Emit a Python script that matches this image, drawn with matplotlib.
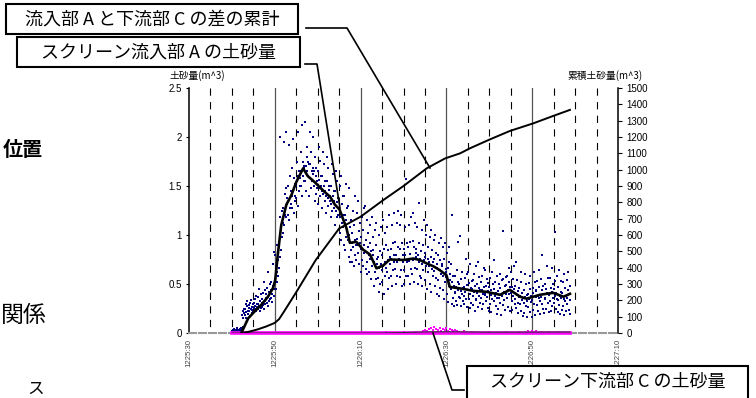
import numpy as np
import matplotlib.pyplot as plt
from matplotlib.patches import Rectangle
from matplotlib.lines import Line2D

plt.rcParams['font.family'] = ['Noto Sans CJK JP', 'DejaVu Sans']
plt.rcParams['lines.scale_dashes'] = False

# x axis = seconds after 12:25:30
tick_secs = [0, 20, 40, 60, 80, 100]
tick_labels = ['1225:30', '1225:50', '1226:10', '1226:30', '1226:50', '1227:10']
left_ticks = [0, 0.5, 1, 1.5, 2, 2.5]
left_tick_labels = ['0', '0.5', '1', '1.5', '2', '2.5']
right_ticks = list(range(0, 1501, 100))

# screen inflow A, sampled 10 per second from t = 10 s (values in 0.01 m^3)
inflow_t0 = 10.0
inflow_dt = 0.1
inflow_rows = [
    [2, 0, 3, 1, 4, 1, 2, 0, 3, 1],
    [1, 4, 2, 5, 1, 3, 2, 0, 4, 3],
    [3, 5, 2, 18, 4, 22, 15, 6, 25, 20],
    [24, 18, 30, 21, 15, 28, 33, 19, 22, 26],
    [29, 22, 17, 31, 25, 34, 20, 27, 23, 30],
    [21, 31, 26, 35, 24, 28, 38, 22, 30, 27],
    [30, 24, 37, 45, 28, 22, 33, 40, 26, 31],
    [35, 27, 41, 29, 52, 25, 33, 44, 30, 36],
    [40, 31, 46, 28, 37, 62, 33, 42, 50, 35],
    [44, 36, 52, 40, 32, 70, 48, 38, 83, 45],
    [55, 80, 45, 68, 90, 52, 62, 75, 58, 66],
    [92, 118, 78, 200, 85, 108, 125, 98, 112, 102],
    [128, 195, 110, 142, 120, 148, 205, 118, 132, 138],
    [150, 120, 192, 136, 115, 160, 128, 145, 132, 140],
    [168, 128, 145, 198, 122, 158, 135, 152, 140, 150],
    [138, 175, 155, 205, 130, 160, 145, 165, 150, 158],
    [185, 150, 165, 140, 212, 160, 175, 155, 170, 168],
    [155, 215, 170, 145, 180, 165, 190, 160, 175, 172],
    [140, 172, 205, 158, 185, 148, 165, 155, 168, 162],
    [200, 150, 165, 135, 180, 160, 142, 168, 155, 148],
    [132, 165, 190, 148, 156, 140, 176, 150, 160, 145],
    [160, 128, 142, 185, 150, 172, 135, 155, 145, 140],
    [122, 155, 180, 138, 130, 168, 146, 150, 135, 140],
    [150, 118, 132, 172, 125, 162, 140, 135, 145, 128],
    [110, 145, 125, 165, 134, 118, 155, 138, 120, 128],
    [128, 102, 150, 118, 160, 95, 132, 112, 140, 120],
    [108, 140, 90, 120, 85, 152, 115, 98, 128, 105],
    [95, 130, 78, 148, 100, 72, 108, 85, 115, 92],
    [102, 72, 125, 88, 68, 110, 95, 140, 80, 90],
    [74, 96, 122, 90, 135, 82, 104, 70, 112, 92],
    [98, 62, 86, 118, 75, 105, 68, 128, 90, 82],
    [84, 130, 65, 95, 72, 115, 60, 102, 88, 80],
    [62, 92, 110, 76, 55, 84, 118, 68, 98, 80],
    [85, 48, 72, 105, 62, 90, 55, 112, 76, 70],
    [78, 56, 100, 42, 66, 84, 50, 108, 70, 64],
    [52, 80, 68, 115, 40, 86, 58, 102, 72, 66],
    [90, 62, 108, 74, 45, 85, 120, 56, 70, 78],
    [58, 86, 76, 110, 48, 92, 64, 122, 80, 72],
    [93, 65, 80, 50, 112, 72, 58, 125, 88, 76],
    [75, 110, 57, 86, 64, 120, 48, 92, 72, 80],
    [64, 86, 50, 108, 80, 157, 58, 75, 92, 72],
    [88, 58, 110, 73, 93, 50, 81, 118, 65, 76],
    [60, 94, 74, 122, 52, 88, 66, 112, 82, 78],
    [86, 65, 108, 50, 80, 133, 72, 92, 58, 76],
    [56, 84, 70, 105, 48, 90, 64, 115, 74, 78],
    [82, 54, 100, 68, 110, 45, 76, 88, 62, 72],
    [68, 98, 50, 78, 42, 105, 65, 85, 58, 72],
    [95, 63, 76, 48, 100, 56, 82, 40, 70, 66],
    [54, 80, 38, 92, 64, 74, 46, 97, 60, 68],
    [70, 44, 88, 58, 35, 76, 92, 52, 65, 62],
    [57, 82, 40, 66, 32, 88, 48, 72, 54, 60],
    [45, 70, 30, 52, 120, 36, 58, 28, 48, 42],
    [41, 58, 33, 47, 64, 29, 52, 44, 93, 37],
    [50, 36, 99, 43, 28, 55, 40, 62, 46, 33],
    [38, 47, 30, 56, 42, 76, 35, 49, 27, 60],
    [62, 44, 35, 51, 26, 40, 70, 46, 31, 53],
    [45, 29, 54, 38, 60, 42, 22, 48, 35, 68],
    [34, 50, 41, 72, 27, 46, 57, 38, 44, 31],
    [52, 36, 44, 24, 58, 40, 30, 47, 66, 39],
    [40, 64, 33, 48, 37, 55, 26, 43, 51, 22],
    [47, 30, 56, 39, 21, 44, 62, 35, 50, 41],
    [33, 45, 75, 38, 52, 28, 41, 58, 19, 36],
    [43, 24, 50, 36, 60, 31, 46, 18, 39, 54],
    [38, 55, 29, 104, 42, 34, 48, 23, 57, 40],
    [49, 36, 58, 27, 44, 66, 40, 52, 22, 47],
    [41, 62, 33, 47, 23, 55, 38, 68, 45, 30],
    [35, 48, 26, 72, 39, 54, 20, 43, 31, 37],
    [46, 30, 38, 52, 22, 62, 34, 41, 17, 36],
    [31, 44, 20, 37, 60, 28, 50, 33, 16, 39],
    [40, 27, 51, 35, 45, 21, 58, 32, 38, 16],
    [34, 46, 23, 41, 62, 30, 52, 18, 37, 44],
    [43, 29, 53, 38, 22, 64, 36, 47, 33, 19],
    [37, 55, 30, 80, 44, 24, 48, 40, 20, 35],
    [50, 36, 45, 25, 68, 41, 31, 56, 39, 21],
    [39, 56, 33, 46, 22, 66, 42, 28, 50, 36],
    [45, 31, 103, 38, 53, 24, 41, 58, 35, 21],
    [34, 47, 29, 64, 38, 19, 53, 36, 42, 23],
    [41, 28, 52, 35, 60, 18, 46, 33, 38, 22],
    [36, 54, 30, 44, 62, 23, 40, 48, 19, 34],
]

# moving average of inflow A (m^3)
avg_t = [12.2, 13.8, 15.3, 16.9, 18.4, 19.6, 20.1, 20.7, 21.5, 22.7, 23.9, 25.0,
         26.6, 27.7, 29.3, 30.2, 31.6, 32.9, 34.0, 35.1, 36.7, 37.5, 39.0, 40.6,
         42.2, 43.7, 45.3, 46.8, 50.0, 52.3, 53.8, 55.4, 57.0, 58.5, 60.0, 60.8,
         63.9, 66.3, 69.4, 72.5, 74.8, 77.2, 78.7, 81.8, 84.9, 87.3, 88.8]
avg_v = [0.0, 0.15, 0.22, 0.29, 0.37, 0.46, 0.54, 0.80, 1.10, 1.31, 1.41, 1.54,
         1.68, 1.60, 1.54, 1.50, 1.44, 1.39, 1.31, 1.26, 1.07, 0.92, 0.93, 0.85,
         0.80, 0.66, 0.69, 0.75, 0.745, 0.76, 0.745, 0.71, 0.68, 0.64, 0.59, 0.47,
         0.45, 0.43, 0.42, 0.39, 0.44, 0.37, 0.35, 0.39, 0.41, 0.37, 0.40]

# cumulative difference A - C (m^3, right axis)
cum_t = [12.3, 14, 16, 18, 20, 21, 22, 25, 29.5, 35, 40, 45.3, 50, 55.4, 59.7,
         63.2, 65.5, 70.2, 74.8, 80.3, 84.9, 88.8]
cum_v = [0, 8, 22, 40, 62, 85, 125, 250, 445, 640, 712, 814, 900, 1008, 1069,
         1100, 1131, 1186, 1237, 1284, 1329, 1366]

# screen downstream C
down_t = [10, 88.8]
down_v = [0, 0]
down_avg_t = [10, 44, 50, 56, 62, 70, 88.8]
down_avg_v = [0, 0, 0.005, 0.012, 0.012, 0.008, 0.01]
down_pts_t = [46, 50, 53, 54.5, 55, 55.5, 56, 56.3, 56.8, 57.2, 57.5, 58, 58.4, 58.8,
              59.2, 59.6, 60, 60.4, 60.8, 61.2, 61.6, 62, 62.5, 63, 64, 66, 70, 74,
              77, 79, 80, 80.5, 81, 82, 84, 86]
down_pts_v = [0.01, 0.01, 0.01, 0.02, 0.03, 0.02, 0.04, 0.05, 0.03, 0.06, 0.04, 0.03,
              0.05, 0.02, 0.04, 0.03, 0.05, 0.02, 0.04, 0.03, 0.02, 0.03, 0.02, 0.01,
              0.02, 0.01, 0.01, 0.01, 0.01, 0.02, 0.02, 0.01, 0.02, 0.01, 0.01, 0.01]

W, H = 756, 398


def fx(px):
    return px / W


def fy(py):
    return 1 - py / H


fig = plt.figure(figsize=(W / 100, H / 100), dpi=100)
ax = fig.add_axes([fx(189), fy(333), (618 - 189) / W, (333 - 88) / H])
ax2 = ax.twinx()

ax.set_xlim(0, 100)
ax.set_ylim(0, 2.5)
ax2.set_ylim(0, 1500)

# vertical guide lines
for s in range(5, 100, 5):
    if s % 20 == 0:
        ax.plot([s, s], [2.5, 0], color='#555555', lw=0.9, zorder=0.5)
    else:
        ax.plot([s, s], [2.5, 0], color='black', lw=0.8, dashes=(5.2, 4.6), zorder=0.5)

vals = np.array(inflow_rows, dtype=float).ravel() / 100
t = inflow_t0 + np.arange(len(vals)) * inflow_dt
ax.scatter(t, vals, s=4.6, marker='s', color='#000080', linewidths=0, zorder=2)

ax.plot(down_t, down_v, color='#ff00ff', lw=2.6, zorder=3, clip_on=False)
ax.scatter(down_pts_t, down_pts_v, s=3.5, marker='s', color='#ff00ff', linewidths=0, zorder=3)
ax.plot(down_avg_t, down_avg_v, color='#333333', lw=0.8, zorder=3)
ax.plot(avg_t, avg_v, color='black', lw=1.9, zorder=4)
ax2.plot(cum_t, cum_v, color='black', lw=1.4, zorder=4)

# axes styling
for sp in ['top', 'right']:
    ax.spines[sp].set_visible(False)
for sp in ['top', 'left', 'bottom']:
    ax2.spines[sp].set_visible(False)
ax.spines['left'].set_linewidth(1.1)
ax.spines['bottom'].set_color('#999999')
ax.spines['bottom'].set_linewidth(1.5)
ax.spines['bottom'].set_linestyle((0, (5, 2.2)))
ax2.spines['right'].set_linewidth(1.1)

ax.set_xticks(tick_secs)
ax.set_xticklabels(tick_labels, rotation=90, fontsize=5.6, color='#444444',
                   family='Liberation Sans')
ax.tick_params(axis='x', length=0, pad=4)
ax.set_yticks(left_ticks)
ax.set_yticklabels(left_tick_labels, fontsize=7, family='Liberation Sans')
ax.tick_params(axis='y', direction='out', length=2.5, width=0.8, pad=2.5)
ax2.set_yticks(right_ticks)
ax2.set_yticklabels([str(v) for v in right_ticks], fontsize=7, family='Liberation Sans')
ax2.tick_params(axis='y', direction='out', length=3, width=0.8, pad=3)

fig.text(fx(197), fy(76), '土砂量(m^3)', fontsize=7, ha='center', va='center')
fig.text(fx(605), fy(76), '累積土砂量(m^3)', fontsize=7, ha='center', va='center')

# callout boxes
boxes = [
    (6, 298, 4, 34, '流入部 A と下流部 C の差の累計'),
    (17, 300, 37, 67, 'スクリーン流入部 A の土砂量'),
    (467, 748, 366, 401, 'スクリーン下流部 C の土砂量'),
]
for x0, x1, y0, y1, label in boxes:
    fig.add_artist(Rectangle((fx(x0), fy(y1)), (x1 - x0) / W, (y1 - y0) / H,
                             transform=fig.transFigure, facecolor='white',
                             edgecolor='black', lw=1.5, zorder=5))
    fig.text(fx((x0 + x1) / 2), fy((y0 + y1) / 2 + (1 if y1 < 400 else -2)), label,
             fontsize=13, ha='center', va='center', zorder=6)

leaders = [
    [(306, 28), (347, 28), (430, 168)],
    [(305, 64), (317, 64), (340, 208)],
    [(433, 333), (452, 390), (464, 390)],
]
for pts in leaders:
    xs = [fx(p[0]) for p in pts]
    ys = [fy(p[1]) for p in pts]
    fig.add_artist(Line2D(xs, ys, transform=fig.transFigure, color='black', lw=1.2, zorder=5))

# fragments of surrounding slide text
fig.text(fx(3), fy(150), '位置', fontsize=14.5, fontweight='bold', ha='left', va='center')
fig.text(fx(1), fy(315), '関係', fontsize=16.5, ha='left', va='center')
fig.text(fx(27), fy(381), 'ス', fontsize=12, ha='left', va='top')

fig.savefig('out.png', dpi=100)
